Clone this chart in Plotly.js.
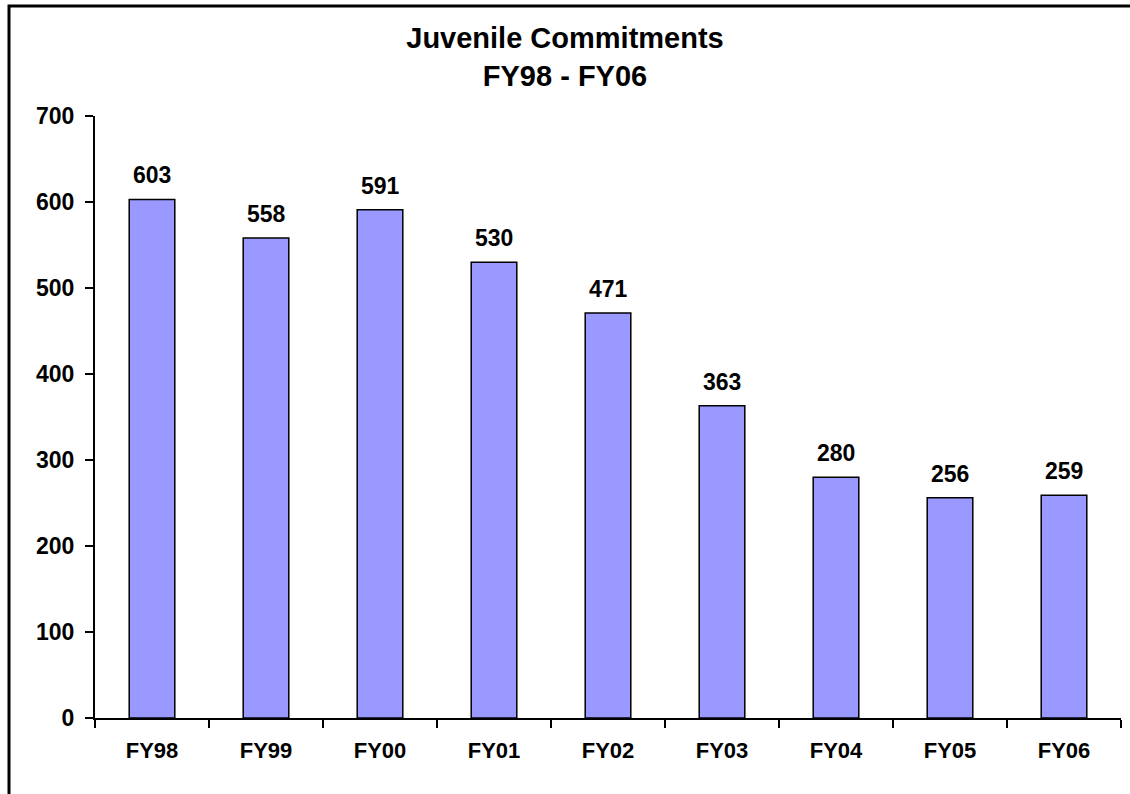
<!DOCTYPE html>
<html>
<head>
<meta charset="utf-8">
<script src="https://cdn.plot.ly/plotly-3.0.1.min.js"></script>
<style>
  html, body { margin: 0; padding: 0; background: #ffffff; }
  #chart { width: 1130px; height: 794px; }
</style>
</head>
<body>
<div id="chart"></div>
<script>
const categories = ["FY98", "FY99", "FY00", "FY01", "FY02", "FY03", "FY04", "FY05", "FY06"];
const commitments = [603, 558, 591, 530, 471, 363, 280, 256, 259];
const yTickValues = [0, 100, 200, 300, 400, 500, 600, 700];

const FONT = "Arial, 'Liberation Sans', Helvetica, sans-serif";

const trace = {
  type: "bar",
  x: categories,
  y: commitments,
  marker: { color: "#9999FF", line: { color: "#000000", width: 1.5 } },
  hoverinfo: "x+y",
  showlegend: false
};

const annotations = categories.map((c, i) => ({
  x: c,
  y: commitments[i],
  xref: "x",
  yref: "y",
  text: "<b>" + commitments[i] + "</b>",
  showarrow: false,
  yanchor: "bottom",
  yshift: 9,
  font: { family: FONT, size: 23, color: "#000000" }
}));

const layout = {
  width: 1130,
  height: 794,
  paper_bgcolor: "#ffffff",
  plot_bgcolor: "#ffffff",
  margin: { l: 95, r: 9, t: 116, b: 76 },
  bargap: 0.6,
  title: {
    text: "<b>Juvenile Commitments<br>FY98 - FY06</b>",
    font: { family: FONT, size: 29, color: "#000000" },
    x: 0.5,
    xanchor: "center",
    xref: "container",
    yref: "container",
    y: 0.939,
    yanchor: "top"
  },
  xaxis: {
    type: "category",
    showline: true,
    linecolor: "#000000",
    linewidth: 2,
    ticks: "outside",
    tickson: "boundaries",
    ticklen: 8,
    tickwidth: 2,
    tickcolor: "#000000",
    showgrid: false,
    zeroline: false,
    tickfont: { family: FONT, size: 22, color: "#000000", weight: "bold" },
    ticklabelstandoff: 12
  },
  yaxis: {
    range: [0, 700],
    tickvals: yTickValues,
    ticktext: yTickValues.map(String),
    showline: true,
    linecolor: "#000000",
    linewidth: 2,
    ticks: "outside",
    ticklen: 8,
    tickwidth: 2,
    tickcolor: "#000000",
    showgrid: false,
    zeroline: false,
    tickfont: { family: FONT, size: 23, color: "#000000", weight: "bold" },
    ticklabelstandoff: 6
  },
  annotations: annotations,
  shapes: [{
    type: "rect",
    xref: "paper",
    yref: "paper",
    x0: (9 - 95) / 1026,
    x1: (1140 - 95) / 1026,
    y0: (76 - 810) / 602,
    y1: (794 - 6 - 76) / 602,
    line: { color: "#000000", width: 3 },
    fillcolor: "rgba(0,0,0,0)",
    layer: "above"
  }]
};

Plotly.newPlot("chart", [trace], layout, { displayModeBar: false, staticPlot: true });
</script>
</body>
</html>
